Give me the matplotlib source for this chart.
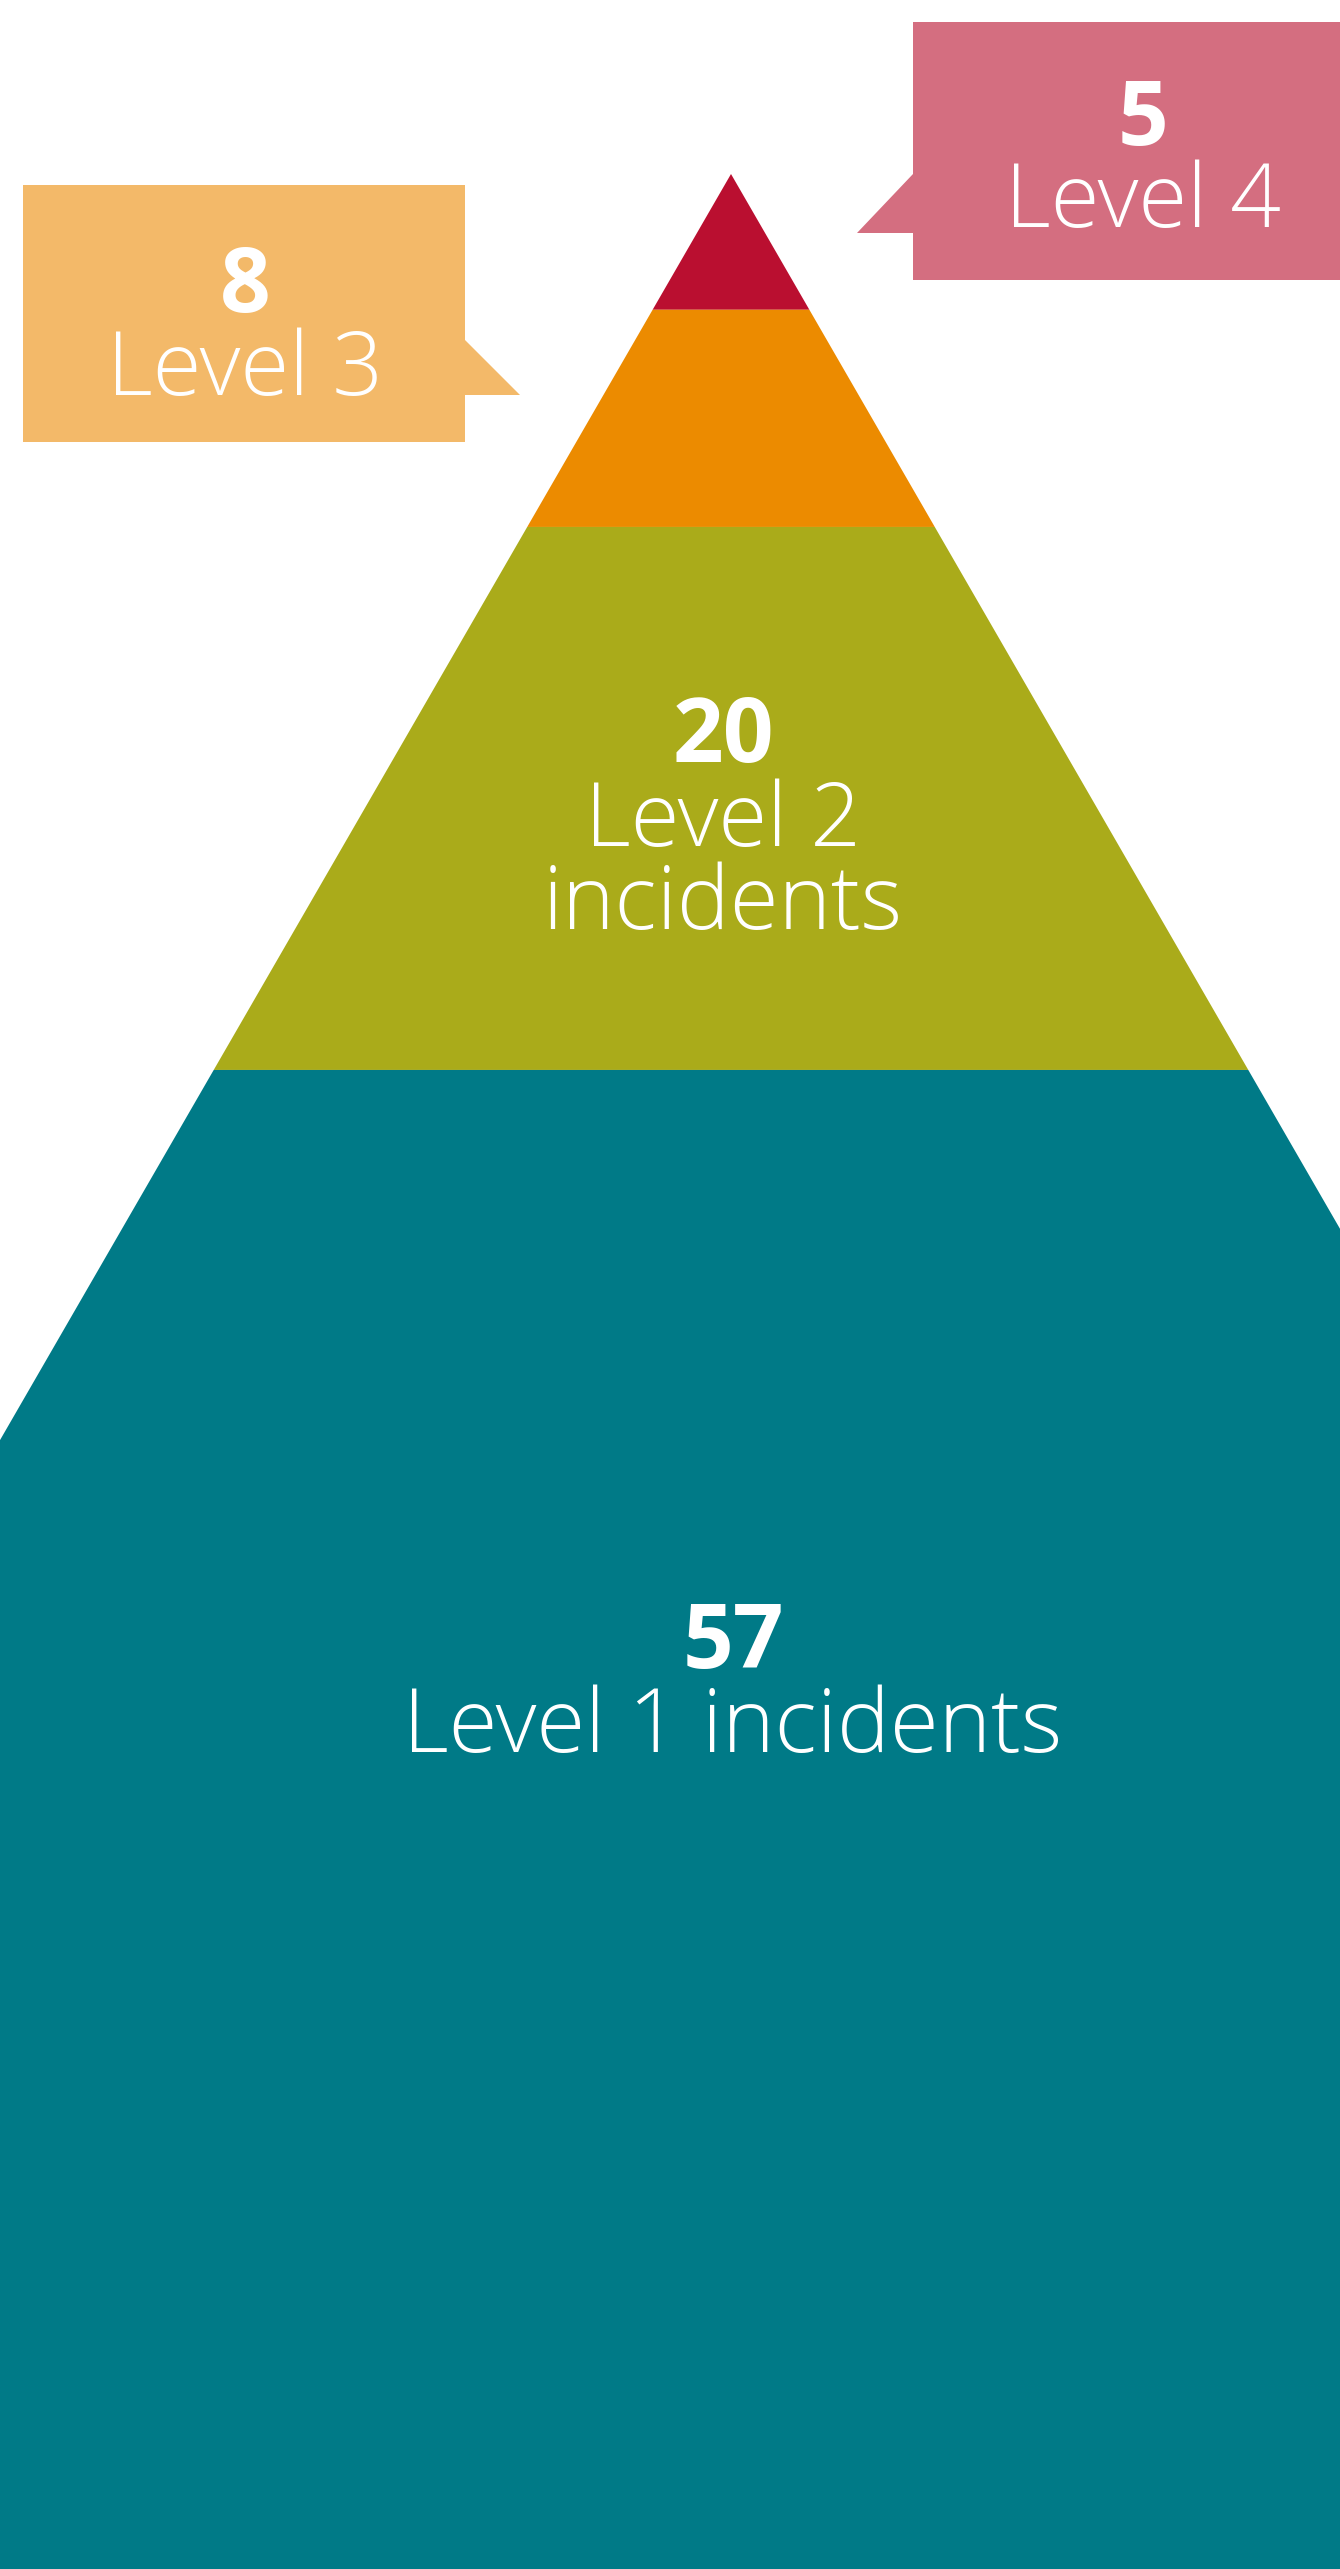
import matplotlib.pyplot as plt
import numpy as np
from matplotlib.patches import Polygon

# incident pyramid, top to bottom
counts = [5, 8, 20, 57]
labels = ["Level 4", "Level 3", "Level 2\nincidents", "Level 1 incidents"]
band_colors = ["#BA0F30", "#EC8B00", "#AAAB1A", "#007A87"]
callout_colors = ["#D46E80", "#F3B969"]   # Level 4, Level 3 boxes

W, H = 1340, 2569
px_per_incident = 27.15
apex_x, apex_y = 731, 174

plt.rcParams['font.family'] = ['Open Sans', 'DejaVu Sans']

fig = plt.figure(figsize=(W / 100, H / 100), dpi=100)
fig.patch.set_facecolor('white')

# pyramid axes: y measured in incidents from the apex, same scale on x
ax = fig.add_axes([0, 0, 1, 1])
ax.set_xlim(-apex_x / px_per_incident, (W - apex_x) / px_per_incident)
ax.set_ylim((H - apex_y) / px_per_incident, -apex_y / px_per_incident)
ax.axis('off')

slope = np.tan(np.radians(30))
top = 0
for n, c in zip(counts, band_colors):
    bot = top + n
    verts = [(-top * slope, top), (top * slope, top), (bot * slope, bot), (-bot * slope, bot)]
    ax.add_patch(Polygon(verts, closed=True, facecolor=c, edgecolor='none'))
    top = bot

# overlay in pixel units for the callouts and labels
lay = fig.add_axes([0, 0, 1, 1], facecolor='none')
lay.set_xlim(0, W)
lay.set_ylim(H, 0)
lay.axis('off')

box4 = [(913, 22), (1373, 22), (1373, 280), (913, 280), (913, 233), (857, 233), (913, 174)]
box3 = [(23, 185), (465, 185), (465, 340), (520, 395), (465, 395), (465, 442), (23, 442)]
lay.add_patch(Polygon(box4, closed=True, facecolor=callout_colors[0], edgecolor='none'))
lay.add_patch(Polygon(box3, closed=True, facecolor=callout_colors[1], edgecolor='none'))

num_size = 64
lab_size = 64
line_step = 83
# (x centre, number baseline, first label baseline)
spots = [(1143, 145, 227), (245, 312, 395), (723, 762, 846), (733, 1668, 1752)]
for n, lab, (x, yn, yl) in zip(counts, labels, spots):
    lay.text(x, yn, str(n), ha='center', va='baseline', color='white',
             fontsize=num_size, fontweight='bold')
    for i, line in enumerate(lab.split("\n")):
        lay.text(x, yl + i * line_step, line, ha='center', va='baseline',
                 color='white', fontsize=lab_size, fontweight='light')

fig.savefig("out.png", dpi=100, facecolor='white')
